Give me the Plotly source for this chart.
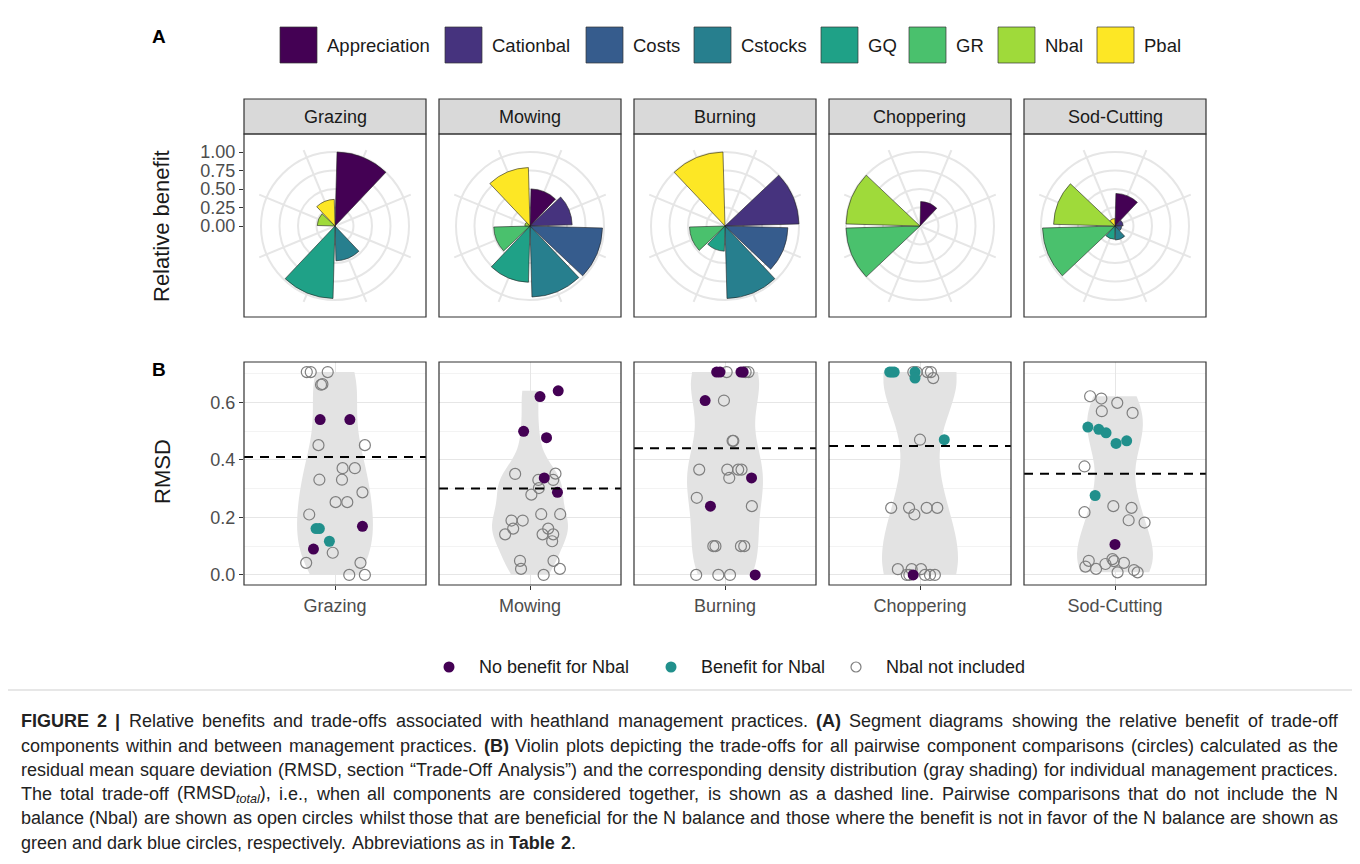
import re
import numpy as np
import plotly.graph_objects as go

W, H = 1360, 864
OFF = 8  # page body margin
def fx(px): return (px - OFF) / W
def fy(py): return 1 - (py - OFF) / H

FONT = "Liberation Sans, Arial, sans-serif"

# ---------------- data ----------------
practices = ["Grazing", "Mowing", "Burning", "Choppering", "Sod-Cutting"]
components = ["Appreciation", "Cationbal", "Costs", "Cstocks", "GQ", "GR", "Nbal", "Pbal"]
comp_colors = ["#440154", "#46337E", "#365C8D", "#277F8E", "#1FA187", "#4AC16D", "#9FDA3A", "#FDE725"]

# relative benefit per component (panel A)
benefit_grazing = [1.00, 0.00, 0.00, 0.47, 0.98, 0.00, 0.24, 0.36]
benefit_mowing = [0.50, 0.57, 0.98, 0.96, 0.76, 0.49, 0.07, 0.79]
benefit_burning = [0.00, 1.00, 0.85, 0.98, 0.34, 0.48, 0.00, 1.00]
benefit_choppering = [0.33, 0.00, 0.00, 0.00, 0.00, 1.00, 1.00, 0.00]
benefit_sodcutting = [0.44, 0.11, 0.09, 0.19, 0.18, 0.98, 0.83, 0.10]
benefits = [benefit_grazing, benefit_mowing, benefit_burning, benefit_choppering, benefit_sodcutting]

# RMSD of pairwise comparisons (panel B); x = horizontal jitter offset
grazing_open_y = [0.705, 0.705, 0.705, 0.661, 0.663, 0.451, 0.451, 0.371, 0.371, 0.331, 0.331, 0.287, 0.253, 0.253, 0.210, 0.077, 0.042, 0.042, 0.0, 0.0]
grazing_open_x = [-0.186, -0.160, -0.048, -0.092, -0.083, -0.109, 0.197, 0.050, 0.131, -0.103, 0.046, 0.181, 0.004, 0.081, -0.170, -0.015, -0.190, 0.168, 0.094, 0.197]
grazing_nob_y = [0.540, 0.540, 0.169, 0.090]
grazing_nob_x = [-0.098, 0.098, 0.181, -0.142]
grazing_ben_y = [0.161, 0.161, 0.117]
grazing_ben_x = [-0.125, -0.103, -0.037]

mowing_open_y = [0.351, 0.330, 0.352, 0.330, 0.302, 0.279, 0.211, 0.211, 0.189, 0.189, 0.161, 0.141, 0.161, 0.141, 0.141, 0.117, 0.049, 0.021, 0.049, 0.021, 0.0]
mowing_open_x = [-0.098, 0.055, 0.168, 0.153, 0.059, 0.009, 0.074, 0.199, -0.122, -0.048, -0.111, -0.164, 0.120, 0.083, 0.153, 0.146, -0.066, -0.059, 0.155, 0.197, 0.090]
mowing_nob_y = [0.640, 0.620, 0.499, 0.477, 0.337, 0.287]
mowing_nob_x = [0.186, 0.066, -0.042, 0.109, 0.094, 0.181]
mowing_ben_y = []
mowing_ben_x = []

burning_open_y = [0.705, 0.705, 0.705, 0.606, 0.466, 0.466, 0.366, 0.366, 0.366, 0.366, 0.337, 0.268, 0.239, 0.100, 0.100, 0.100, 0.100, 0.0, 0.0, 0.0]
burning_open_x = [0.011, 0.136, 0.155, -0.007, 0.050, 0.055, -0.170, 0.015, 0.087, 0.109, 0.028, -0.186, 0.177, -0.077, -0.063, 0.105, 0.127, -0.190, -0.044, 0.033]
burning_nob_y = [0.705, 0.705, 0.705, 0.705, 0.606, 0.337, 0.239, 0.0]
burning_nob_x = [-0.055, -0.033, 0.105, 0.120, -0.131, 0.175, -0.096, 0.199]
burning_ben_y = []
burning_ben_x = []

choppering_open_y = [0.705, 0.705, 0.705, 0.705, 0.684, 0.470, 0.233, 0.233, 0.233, 0.233, 0.210, 0.020, 0.020, 0.020, 0.0, 0.0, 0.0, 0.0, 0.0]
choppering_open_x = [-0.044, -0.022, 0.050, 0.072, 0.087, 0.000, -0.190, -0.072, 0.044, 0.114, -0.037, -0.146, -0.055, 0.007, -0.087, -0.070, 0.033, 0.066, 0.098]
choppering_nob_y = [0.0]
choppering_nob_x = [-0.045]
choppering_ben_y = [0.705, 0.705, 0.705, 0.705, 0.684, 0.470]
choppering_ben_x = [-0.200, -0.185, -0.170, -0.033, -0.033, 0.160]

sodcutting_open_y = [0.621, 0.613, 0.598, 0.569, 0.563, 0.377, 0.239, 0.233, 0.218, 0.190, 0.182, 0.049, 0.029, 0.021, 0.038, 0.055, 0.048, 0.042, 0.009, 0.017, 0.009]
sodcutting_open_x = [-0.164, -0.090, 0.015, -0.087, 0.116, -0.201, -0.011, 0.109, -0.201, 0.090, 0.195, -0.173, -0.195, -0.125, -0.063, -0.017, -0.007, 0.059, 0.017, 0.125, 0.149]
sodcutting_nob_y = [0.106]
sodcutting_nob_x = [0.0]
sodcutting_ben_y = [0.514, 0.506, 0.494, 0.457, 0.466, 0.276]
sodcutting_ben_x = [-0.179, -0.107, -0.059, 0.007, 0.077, -0.131]

rmsd_total = [0.41, 0.30, 0.44, 0.448, 0.352]

points = [
    (grazing_open_x, grazing_open_y, grazing_nob_x, grazing_nob_y, grazing_ben_x, grazing_ben_y),
    (mowing_open_x, mowing_open_y, mowing_nob_x, mowing_nob_y, mowing_ben_x, mowing_ben_y),
    (burning_open_x, burning_open_y, burning_nob_x, burning_nob_y, burning_ben_x, burning_ben_y),
    (choppering_open_x, choppering_open_y, choppering_nob_x, choppering_nob_y, choppering_ben_x, choppering_ben_y),
    (sodcutting_open_x, sodcutting_open_y, sodcutting_nob_x, sodcutting_nob_y, sodcutting_ben_x, sodcutting_ben_y),
]

point_labels = ["No benefit for Nbal", "Benefit for Nbal", "Nbal not included"]
point_colors = ["#440154", "#21908C", "#7F7F7F"]

caption_lines = [
    "<b>FIGURE</b> <b>2</b> <b>|</b> Relative benefits and trade-offs associated with heathland management practices. <b>(A)</b> Segment diagrams showing the relative benefit of trade-off",
    "components within and between management practices. <b>(B)</b> Violin plots depicting the trade-offs for all pairwise component comparisons (circles) calculated as the",
    "residual mean square deviation (RMSD, section “Trade-Off Analysis”) and the corresponding density distribution (gray shading) for individual management practices.",
    "The total trade-off (RMSD<sub><i>total</i></sub>), i.e., when all components are considered together, is shown as a dashed line. Pairwise comparisons that do not include the N",
    "balance (Nbal) are shown as open circles whilst those that are beneficial for the N balance and those where the benefit is not in favor of the N balance are shown as",
    "green and dark blue circles, respectively. Abbreviations as in <b>Table</b> <b>2</b>.",
]

# ---------------- layout constants ----------------
panel_left = [244, 439, 634, 829, 1024]
PW = 182
STRIP_T, STRIP_B = 99, 134
TOP_B = 317
CY = 226
R_OUT = 82      # spoke length (px)
R_ONE = 74      # radius of value 1.0 (px)
BOT_T, BOT_B = 362, 585
GRID = "#E6E6E6"
DARK = "#333333"
TXT = "#4D4D4D"

# Arial / Liberation Sans advance widths (per 1000 em) for caption justification
REG = {' ': 278, ',': 278, '-': 333, '.': 278, '(': 333, ')': 333, '|': 260, '“': 333, '”': 333,
       '0': 556, '1': 556, '2': 556}
REG.update(dict(zip("ABCDEFGHIJKLMNOPQRSTUVWXYZ",
                    [667, 667, 722, 722, 667, 611, 778, 722, 278, 500, 667, 556, 833, 722, 778, 667,
                     778, 722, 667, 611, 722, 667, 944, 667, 667, 611])))
REG.update(dict(zip("abcdefghijklmnopqrstuvwxyz",
                    [556, 556, 500, 556, 556, 278, 556, 556, 222, 222, 500, 222, 833, 556, 556, 556,
                     556, 333, 500, 278, 556, 500, 722, 500, 500, 500])))
BOLD = dict(REG)
BOLD.update({'|': 280, 'A': 722, 'B': 722, 'R': 722, 'U': 722, 'b': 611, 'l': 278, 'e': 556,
             'a': 556, '(': 333, ')': 333})

def text_width(html, size):
    bold = False
    sub = False
    w = 0.0
    for tok in re.split(r"(<[^>]+>)", html):
        if tok.startswith("<"):
            t = tok.lower()
            if t == "<b>": bold = True
            elif t == "</b>": bold = False
            elif t == "<sub>": sub = True
            elif t == "</sub>": sub = False
            continue
        for ch in tok:
            cw = (BOLD if bold else REG).get(ch, 556)
            w += cw * (0.7 if sub else 1.0)
    return w * size / 1000.0

fig = go.Figure()
layout = dict(width=W, height=H, margin=dict(l=0, r=0, t=0, b=0),
              paper_bgcolor="white", plot_bgcolor="white",
              font=dict(family=FONT, size=18, color="#1A1A1A"),
              showlegend=False)
shapes, annots = [], []

# ---------------- panel A: polar bars ----------------
for i, vals in enumerate(benefits):
    pid = "polar" if i == 0 else f"polar{i+1}"
    cx = panel_left[i] + PW / 2
    fig.add_trace(go.Barpolar(
        r=vals, theta=components, width=[0.93] * len(components),
        marker=dict(color=comp_colors, line=dict(color="#222222", width=0.6)),
        subplot=pid, showlegend=False, hoverinfo="skip"))
    layout[pid] = dict(
        domain=dict(x=[fx(cx - R_OUT), fx(cx + R_OUT)], y=[fy(CY + R_OUT), fy(CY - R_OUT)]),
        bgcolor="white",
        radialaxis=dict(range=[0, R_OUT / R_ONE], tickvals=[0.25, 0.5, 0.75, 1.0],
                        showticklabels=False, ticks="", showline=False,
                        gridcolor=GRID, gridwidth=1.6),
        angularaxis=dict(type="category", categoryarray=components, rotation=67.5,
                         direction="clockwise", showticklabels=False, ticks="",
                         showline=False, gridcolor=GRID, gridwidth=1.6),
    )
    L = panel_left[i]
    shapes.append(dict(type="rect", xref="paper", yref="paper", x0=fx(L), x1=fx(L + PW),
                       y0=fy(STRIP_B), y1=fy(STRIP_T), fillcolor="#D9D9D9",
                       line=dict(color=DARK, width=1.2), layer="above"))
    annots.append(dict(x=fx(L + PW / 2), y=fy((STRIP_T + STRIP_B) / 2), xref="paper", yref="paper",
                       text=practices[i], showarrow=False, xanchor="center", yanchor="middle",
                       font=dict(size=18, color="#1A1A1A")))
    shapes.append(dict(type="rect", xref="paper", yref="paper", x0=fx(L), x1=fx(L + PW),
                       y0=fy(TOP_B), y1=fy(STRIP_B), line=dict(color=DARK, width=1.2), layer="above"))

# radial tick axis for panel A (left of first panel)
ybot = (CY - TOP_B) / R_ONE
ytop = (CY - STRIP_B) / R_ONE
fig.add_trace(go.Scatter(x=[0.5], y=[0], xaxis="x6", yaxis="y6", mode="markers",
                         marker=dict(size=1, opacity=0), showlegend=False, hoverinfo="skip"))
layout["xaxis6"] = dict(domain=[fx(panel_left[0]), fx(panel_left[0] + PW)], range=[0, 1],
                        anchor="y6", visible=False)
layout["yaxis6"] = dict(domain=[fy(TOP_B), fy(STRIP_B)], range=[ybot, ytop], anchor="x6",
                        tickvals=[0, 0.25, 0.5, 0.75, 1.0],
                        ticktext=["0.00", "0.25", "0.50", "0.75", "1.00"],
                        ticks="outside", ticklen=4, tickcolor=DARK, tickwidth=1.1,
                        showgrid=False, zeroline=False, showline=False,
                        tickfont=dict(size=18, color=TXT))

# ---------------- panel B: violins + points ----------------
for i in range(5):
    xid = "x" if i == 0 else f"x{i+1}"
    yid = "y" if i == 0 else f"y{i+1}"
    ox, oy, nx, ny, bx, by = points[i]
    ally = np.array(list(oy) + list(ny) + list(by), dtype=float)
    q75, q25 = np.percentile(ally, [75, 25])
    bw = 0.9 * min(ally.std(ddof=1), (q75 - q25) / 1.34) * len(ally) ** (-0.2)
    fig.add_trace(go.Violin(y=ally, x0=0, xaxis=xid, yaxis=yid, width=0.5,
                            points=False, fillcolor="#E3E3E3", line=dict(width=0, color="#E3E3E3"),
                            spanmode="hard", bandwidth=bw, scalemode="width",
                            box_visible=False, meanline_visible=False,
                            showlegend=False, hoverinfo="skip"))
    fig.add_trace(go.Scatter(x=ox, y=oy, mode="markers", xaxis=xid, yaxis=yid,
                             marker=dict(symbol="circle-open", size=11, color=point_colors[2],
                                         line=dict(width=1.2)),
                             showlegend=False, hoverinfo="skip"))
    if bx:
        fig.add_trace(go.Scatter(x=bx, y=by, mode="markers", xaxis=xid, yaxis=yid,
                                 marker=dict(symbol="circle", size=11, color=point_colors[1]),
                                 showlegend=False, hoverinfo="skip"))
    if nx:
        fig.add_trace(go.Scatter(x=nx, y=ny, mode="markers", xaxis=xid, yaxis=yid,
                                 marker=dict(symbol="circle", size=11, color=point_colors[0]),
                                 showlegend=False, hoverinfo="skip"))
    L = panel_left[i]
    xa = "xaxis" if i == 0 else f"xaxis{i+1}"
    ya = "yaxis" if i == 0 else f"yaxis{i+1}"
    layout[xa] = dict(domain=[fx(L), fx(L + PW)], range=[-0.6, 0.6], anchor=yid, type="linear",
                      tickvals=[0], ticktext=[practices[i]], ticks="outside", ticklen=4,
                      tickcolor=DARK, tickwidth=1.1, showgrid=True, gridcolor=GRID, gridwidth=1.3,
                      zeroline=False, showline=False, tickfont=dict(size=18, color=TXT))
    layout[ya] = dict(domain=[fy(BOT_B), fy(BOT_T)], range=[-0.035, 0.74], anchor=xid,
                      tickvals=[0, 0.2, 0.4, 0.6], ticktext=["0.0", "0.2", "0.4", "0.6"],
                      showticklabels=(i == 0), ticks="outside" if i == 0 else "",
                      ticklen=4, tickcolor=DARK, tickwidth=1.1,
                      showgrid=True, gridcolor=GRID, gridwidth=1.3, zeroline=False, showline=False,
                      minor=dict(tickvals=[0.1, 0.3, 0.5, 0.7], showgrid=True,
                                 gridcolor="#F3F3F3", gridwidth=0.7),
                      tickfont=dict(size=18, color=TXT))
    shapes.append(dict(type="line", xref=f"{xid} domain", yref=yid, x0=0, x1=1,
                       y0=rmsd_total[i], y1=rmsd_total[i],
                       line=dict(color="black", width=2, dash="9px,7px"), layer="above"))
    shapes.append(dict(type="rect", xref="paper", yref="paper", x0=fx(L), x1=fx(L + PW),
                       y0=fy(BOT_B), y1=fy(BOT_T), line=dict(color=DARK, width=1.2), layer="above"))

# ---------------- titles / labels ----------------
annots.append(dict(x=fx(161), y=fy(226), xref="paper", yref="paper", text="Relative benefit",
                   textangle=-90, showarrow=False, xanchor="center", yanchor="middle",
                   font=dict(size=22, color="#1A1A1A")))
annots.append(dict(x=fx(162), y=fy(472), xref="paper", yref="paper", text="RMSD",
                   textangle=-90, showarrow=False, xanchor="center", yanchor="middle",
                   font=dict(size=22, color="#1A1A1A")))
annots.append(dict(x=fx(150), y=fy(37), xref="paper", yref="paper", text="<b>A</b>",
                   showarrow=False, xanchor="left", yanchor="middle", font=dict(size=19, color="black")))
annots.append(dict(x=fx(150), y=fy(369), xref="paper", yref="paper", text="<b>B</b>",
                   showarrow=False, xanchor="left", yanchor="middle", font=dict(size=19, color="black")))

# top legend (fill colours)
sw_left = [280, 445, 586, 694, 821, 909, 998, 1097]
for k, comp in enumerate(components):
    x0 = sw_left[k]
    shapes.append(dict(type="rect", xref="paper", yref="paper", x0=fx(x0), x1=fx(x0 + 37),
                       y0=fy(63), y1=fy(27), fillcolor=comp_colors[k],
                       line=dict(color="#333333", width=0.7)))
    annots.append(dict(x=fx(x0 + 45), y=fy(45), xref="paper", yref="paper", text=comp,
                       showarrow=False, xanchor="left", yanchor="middle",
                       font=dict(size=18.5, color="#1A1A1A")))

# bottom legend (points)
leg_cx = [449, 671, 856]
for k in range(3):
    c = leg_cx[k]
    if k < 2:
        shapes.append(dict(type="circle", xref="paper", yref="paper", x0=fx(c - 5.5), x1=fx(c + 5.5),
                           y0=fy(667 + 5.5), y1=fy(667 - 5.5), fillcolor=point_colors[k],
                           line=dict(color=point_colors[k], width=0)))
    else:
        shapes.append(dict(type="circle", xref="paper", yref="paper", x0=fx(c - 5), x1=fx(c + 5),
                           y0=fy(667 + 5), y1=fy(667 - 5), fillcolor="white",
                           line=dict(color=point_colors[2], width=1.2)))
    annots.append(dict(x=fx(c + 28), y=fy(667), xref="paper", yref="paper", text=point_labels[k],
                       showarrow=False, xanchor="left", yanchor="middle",
                       font=dict(size=18, color="#1A1A1A")))

# separator + justified caption
shapes.append(dict(type="line", xref="paper", yref="paper", x0=0, x1=1, y0=fy(690), y1=fy(690),
                   line=dict(color="#CFCFCF", width=1)))
CAP_SIZE = 18
CAP_L, CAP_R = 20, 1337
cap_y = [721, 746, 770, 794, 818, 843]
for li, (line, yy) in enumerate(zip(caption_lines, cap_y)):
    words = line.split(" ")
    widths = [text_width(wd, CAP_SIZE) for wd in words]
    if li < len(caption_lines) - 1:
        gap = (CAP_R - CAP_L - sum(widths)) / (len(words) - 1)
    else:
        gap = REG[' '] * CAP_SIZE / 1000.0
    xpos = CAP_L
    for wd, wdw in zip(words, widths):
        annots.append(dict(x=fx(xpos - 1), y=fy(yy), xref="paper", yref="paper", text=wd,
                           showarrow=False, xanchor="left", yanchor="middle",
                           font=dict(size=CAP_SIZE, color="#222222")))
        xpos += wdw + gap

layout["shapes"] = shapes
layout["annotations"] = annots
fig.update_layout(**layout)
fig.write_html("out.html")
